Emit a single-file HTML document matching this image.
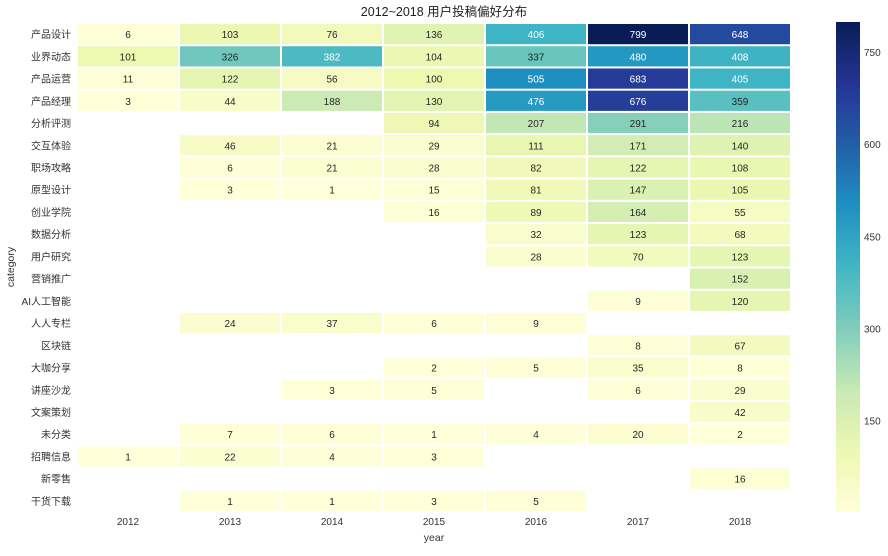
<!DOCTYPE html>
<html><head><meta charset="utf-8">
<style>
body{margin:0;background:#fff;width:888px;height:551px;overflow:hidden;font-family:"Liberation Sans","Noto Sans CJK SC",sans-serif;}
</style></head><body>
<svg id="s" width="888" height="551" xmlns="http://www.w3.org/2000/svg" font-family="Liberation Sans, Noto Sans CJK SC, sans-serif"></svg>
<script>
const cats=["产品设计","业界动态","产品运营","产品经理","分析评测","交互体验","职场攻略","原型设计","创业学院","数据分析","用户研究","营销推广","AI人工智能","人人专栏","区块链","大咖分享","讲座沙龙","文案策划","未分类","招聘信息","新零售","干货下载"];
const D=[
[6,103,76,136,406,799,648],
[101,326,382,104,337,480,408],
[11,122,56,100,505,683,405],
[3,44,188,130,476,676,359],
[,,,94,207,291,216],
[,46,21,29,111,171,140],
[,6,21,28,82,122,108],
[,3,1,15,81,147,105],
[,,,16,89,164,55],
[,,,,32,123,68],
[,,,,28,70,123],
[,,,,,,152],
[,,,,,9,120],
[,24,37,6,9,,],
[,,,,,8,67],
[,,,2,5,35,8],
[,,3,5,,6,29],
[,,,,,,42],
[,7,6,1,4,20,2],
[1,22,4,3,,,],
[,,,,,,16],
[,1,1,3,5,,]];
const stops=["#ffffd9","#edf8b1","#c7e9b4","#7fcdbb","#41b6c4","#1d91c0","#225ea8","#253494","#081d58"].map(h=>[1,3,5].map(i=>parseInt(h.substr(i,2),16)));
function col(v){let t=(v-1)/798;t=Math.max(0,Math.min(1,t))*8;let i=Math.min(7,Math.floor(t)),f=t-i;return stops[i].map((c,k)=>c+(stops[i+1][k]-c)*f);}
function rgb(c){return `rgb(${c.map(Math.round).join(',')})`;}
let h='';const x0=77,y0=23,cw=102,ch=489/22;
h+=`<text x="444" y="16" font-size="12.5" text-anchor="middle" fill="#222">2012~2018 用户投稿偏好分布</text>`;
D.forEach((r,i)=>{
 const y=y0+i*ch;
 h+=`<text x="71" y="${y+ch/2+4}" font-size="10" text-anchor="end" fill="#333">${cats[i]}</text>`;
 for(let j=0;j<7;j++){const v=r[j];if(v===undefined)continue;const c=col(v);
  h+=`<rect x="${x0+j*cw+1}" y="${y+1}" width="${cw-2}" height="${ch-2}" fill="${rgb(c)}"/>`;
  h+=`<text x="${x0+j*cw+cw/2}" y="${y+ch/2+4}" font-size="10" text-anchor="middle" fill="${v>370?'#fff':'#262626'}">${v}</text>`;}
});
for(let j=0;j<7;j++)h+=`<text x="${x0+j*cw+cw/2}" y="525" font-size="10" text-anchor="middle" fill="#333">${2012+j}</text>`;
h+=`<text x="434" y="541" font-size="10.5" text-anchor="middle" fill="#333">year</text>`;
h+=`<text x="14" y="267" font-size="10.5" text-anchor="middle" fill="#333" transform="rotate(-90 14 267)">category</text>`;
h+=`<defs><linearGradient id="g" x1="0" y1="1" x2="0" y2="0">${stops.map((c,i)=>`<stop offset="${i/8}" stop-color="${rgb(c)}"/>`).join('')}</linearGradient></defs>`;
h+=`<rect x="836" y="22" width="24" height="490" fill="url(#g)"/>`;
[150,300,450,600,750].forEach(v=>{const y=512-(v-1)/798*490;h+=`<text x="864" y="${y+4}" font-size="10" fill="#333">${v}</text>`;});
document.getElementById('s').innerHTML=h;
</script>
</body></html>
